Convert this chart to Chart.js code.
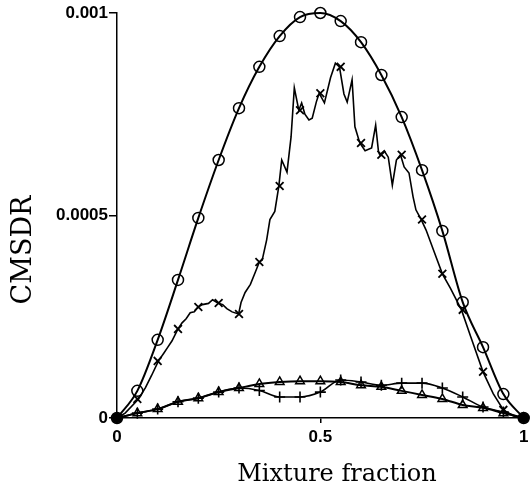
<!DOCTYPE html>
<html>
<head>
<meta charset="utf-8">
<script src="https://cdn.jsdelivr.net/npm/chart.js@4/dist/chart.umd.min.js"></script>
<style>
  html, body { margin: 0; padding: 0; background: #fff; }
  #wrap { width: 531px; height: 488px; }
</style>
</head>
<body>
<div id="wrap"><canvas id="myChart" width="531" height="488"></canvas></div>
<script>
// marker positions along mixture fraction
var markX = [0, 0.05, 0.1, 0.15, 0.2, 0.25, 0.3, 0.35, 0.4, 0.45, 0.5,
             0.55, 0.6, 0.65, 0.7, 0.75, 0.8, 0.85, 0.9, 0.95, 1];

// circles (smooth curve), values in 1e-3
var circleY = [0, 0.067, 0.193, 0.341, 0.494, 0.637, 0.765, 0.867, 0.943, 0.99, 1.0,
               0.98, 0.928, 0.847, 0.743, 0.612, 0.462, 0.286, 0.175, 0.059, 0];

// crosses: markers and the noisy trace between them
var crossY = [0, 0.047, 0.141, 0.22, 0.274, 0.284, 0.257, 0.385, 0.573, 0.76, 0.802,
              0.867, 0.679, 0.65, 0.65, 0.49, 0.356, 0.267, 0.114, 0.02, 0];
var crossLineX = [0, 0.02, 0.053, 0.07, 0.085, 0.102, 0.115, 0.125, 0.135, 0.15, 0.16, 0.17,
                  0.18, 0.19, 0.199, 0.21, 0.225, 0.235, 0.248, 0.26, 0.27, 0.283, 0.299, 0.305,
                  0.315, 0.328, 0.34, 0.35, 0.357, 0.368, 0.376, 0.388, 0.398, 0.405, 0.418, 0.428,
                  0.436, 0.447, 0.454, 0.462, 0.472, 0.48, 0.49, 0.497, 0.51, 0.525, 0.537, 0.547,
                  0.558, 0.566, 0.578, 0.585, 0.597, 0.61, 0.626, 0.636, 0.643, 0.646, 0.657, 0.667,
                  0.677, 0.687, 0.697, 0.706, 0.718, 0.728, 0.735, 0.748, 0.76, 0.78, 0.8, 0.82,
                  0.847, 0.87, 0.9, 0.925, 0.95, 0.975, 1];
var crossLineY = [0, 0.012, 0.047, 0.075, 0.105, 0.141, 0.16, 0.175, 0.19, 0.22, 0.235, 0.245,
                  0.26, 0.262, 0.274, 0.28, 0.283, 0.292, 0.284, 0.28, 0.27, 0.262, 0.257, 0.285,
                  0.31, 0.33, 0.36, 0.385, 0.39, 0.44, 0.49, 0.51, 0.573, 0.637, 0.607, 0.694,
                  0.815, 0.76, 0.778, 0.75, 0.736, 0.74, 0.78, 0.802, 0.778, 0.84, 0.876, 0.867,
                  0.8, 0.78, 0.835, 0.719, 0.679, 0.66, 0.667, 0.723, 0.657, 0.65, 0.66, 0.644,
                  0.575, 0.637, 0.65, 0.62, 0.605, 0.546, 0.514, 0.49, 0.464, 0.41, 0.356, 0.32,
                  0.267, 0.2, 0.114, 0.06, 0.02, 0.005, 0];

// triangles and plus signs, values in 1e-3
var triY = [0, 0.012, 0.022, 0.04, 0.049, 0.064, 0.074, 0.084, 0.089, 0.091, 0.091,
            0.089, 0.081, 0.077, 0.067, 0.057, 0.047, 0.032, 0.025, 0.012, 0];
var plusY = [0, 0.012, 0.022, 0.04, 0.049, 0.064, 0.074, 0.068, 0.052, 0.052, 0.064,
             0.094, 0.089, 0.081, 0.086, 0.086, 0.074, 0.052, 0.027, 0.015, 0];

// filled end points
var dotX = [0, 1];
var dotY = [0, 0];

var xTicks = [0, 0.5, 1];
var xTickLabels = ['0', '0.5', '1'];
var yTicks = [0, 0.0005, 0.001];
var yTickLabels = ['0', '0.0005', '0.001'];

function pts(xs, ys) {
    return xs.map(function(x, i) { return {x: x, y: ys[i] / 1000}; });
}

// axis titles sit off-centre in the original, so draw them here
var axisTitles = {
    id: 'axisTitles',
    afterDraw: function(chart) {
        var c = chart.ctx;
        c.save();
        c.fillStyle = '#000';
        c.textAlign = 'center';
        c.textBaseline = 'alphabetic';
        c.font = '24px "DejaVu Serif"';
        c.fillText('Mixture fraction', 337, 481);
        c.translate(31, 250);
        c.rotate(-Math.PI / 2);
        c.font = '27px "DejaVu Serif"';
        c.fillText('CMSDR', 0, 0);
        c.restore();
    }
};

var ctx = document.getElementById('myChart').getContext('2d');
var chart = new Chart(ctx, {
    type: 'scatter',
    data: {
        datasets: [{
            data: pts(dotX, dotY),
            showLine: false,
            pointRadius: 5,
            pointBackgroundColor: '#000',
            pointBorderColor: '#000',
            clip: false
        }, {
            data: pts(markX, circleY),
            showLine: true,
            cubicInterpolationMode: 'monotone',
            borderColor: '#000',
            borderWidth: 2,
            pointStyle: 'circle',
            pointRadius: 5.5,
            pointBorderWidth: 1.5,
            pointBorderColor: '#000',
            pointBackgroundColor: 'rgba(0,0,0,0)',
            clip: false
        }, {
            data: pts(crossLineX, crossLineY),
            showLine: true,
            borderColor: '#000',
            borderWidth: 1.6,
            pointRadius: 0,
            clip: false
        }, {
            data: pts(markX, crossY),
            showLine: false,
            pointStyle: 'crossRot',
            pointRadius: 5.5,
            pointBorderWidth: 1.8,
            pointBorderColor: '#000',
            clip: false
        }, {
            data: pts(markX, triY),
            showLine: true,
            cubicInterpolationMode: 'monotone',
            borderColor: '#000',
            borderWidth: 2,
            pointStyle: 'triangle',
            pointRadius: 5,
            pointBorderWidth: 1.5,
            pointBorderColor: '#000',
            pointBackgroundColor: 'rgba(0,0,0,0)',
            clip: false
        }, {
            data: pts(markX, plusY),
            showLine: true,
            cubicInterpolationMode: 'monotone',
            borderColor: '#000',
            borderWidth: 1.6,
            pointStyle: 'cross',
            pointRadius: 5.5,
            pointBorderWidth: 1.6,
            pointBorderColor: '#000',
            clip: false
        }]
    },
    options: {
        responsive: false,
        animation: false,
        layout: { padding: { top: 13, right: 2, left: 0, bottom: 0 } },
        plugins: {
            legend: { display: false },
            tooltip: { enabled: false }
        },
        scales: {
            x: {
                type: 'linear',
                min: 0, max: 1,
                afterBuildTicks: function(s) { s.ticks = xTicks.map(function(v) { return {value: v}; }); },
                afterFit: function(s) { s.height = 70; s.paddingLeft = 0; s.paddingRight = 0; },
                ticks: {
                    color: '#000',
                    font: { family: '"Liberation Sans"', size: 17, weight: 'bold' },
                    padding: 4,
                    maxRotation: 0,
                    callback: function(v) { return xTickLabels[xTicks.indexOf(v)]; }
                },
                grid: { drawOnChartArea: false, color: '#000', tickLength: 5, lineWidth: 1.5 },
                border: { color: '#000', width: 1.5 }
            },
            y: {
                min: 0, max: 0.001,
                afterBuildTicks: function(s) { s.ticks = yTicks.map(function(v) { return {value: v}; }); },
                afterFit: function(s) { s.width = 117; },
                ticks: {
                    color: '#000',
                    font: { family: '"Liberation Sans"', size: 17, weight: 'bold' },
                    padding: 1,
                    callback: function(v) { return yTickLabels[yTicks.indexOf(v)]; }
                },
                grid: { drawOnChartArea: false, color: '#000', tickLength: 8, lineWidth: 1.5 },
                border: { color: '#000', width: 1.5 }
            }
        }
    },
    plugins: [axisTitles]
});
</script>
</body>
</html>
